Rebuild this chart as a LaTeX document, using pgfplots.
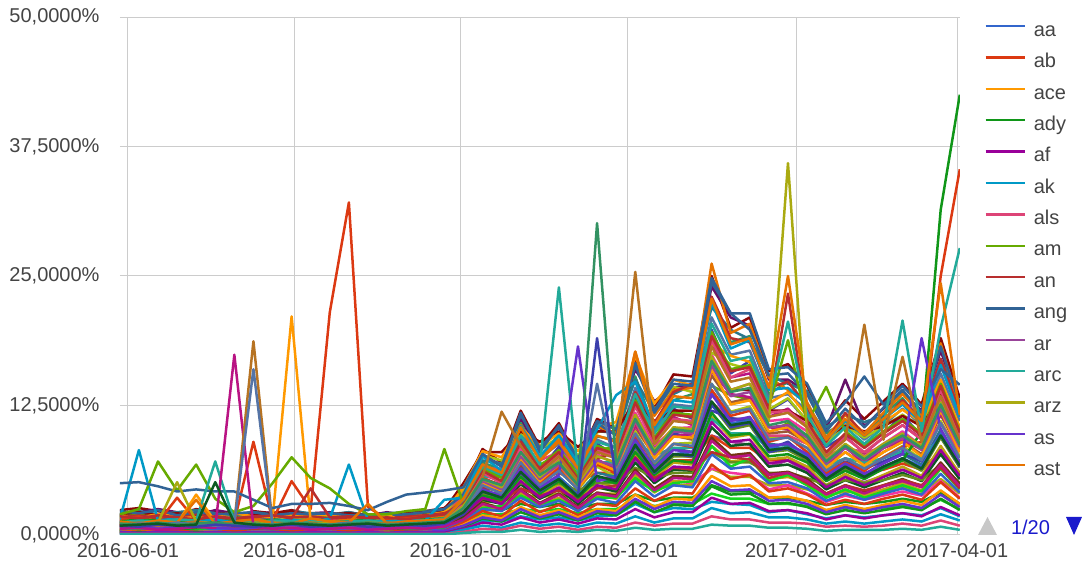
\documentclass[border=0pt]{standalone}
\usepackage{fontspec}
\setmainfont{Liberation Sans}
\usepackage{pgfplots}
\pgfplotsset{compat=1.18}
\definecolor{c1}{HTML}{3366CC}\definecolor{c2}{HTML}{DC3912}\definecolor{c3}{HTML}{FF9900}
\definecolor{c4}{HTML}{109618}\definecolor{c5}{HTML}{990099}\definecolor{c6}{HTML}{0099C6}
\definecolor{c7}{HTML}{DD4477}\definecolor{c8}{HTML}{66AA00}\definecolor{c9}{HTML}{B82E2E}
\definecolor{c10}{HTML}{316395}\definecolor{c11}{HTML}{994499}\definecolor{c12}{HTML}{22AA99}
\definecolor{c13}{HTML}{AAAA11}\definecolor{c14}{HTML}{6633CC}\definecolor{c15}{HTML}{E67300}
\definecolor{c16}{HTML}{8B0707}\definecolor{c17}{HTML}{651067}\definecolor{c18}{HTML}{329262}
\definecolor{c19}{HTML}{5574A6}\definecolor{c20}{HTML}{3B3EAC}\definecolor{c21}{HTML}{B77322}
\definecolor{c22}{HTML}{16D620}\definecolor{c23}{HTML}{B91383}\definecolor{c24}{HTML}{F4359E}
\definecolor{c25}{HTML}{9C5935}\definecolor{c26}{HTML}{A9C413}\definecolor{c27}{HTML}{2A778D}
\definecolor{c28}{HTML}{668D1C}\definecolor{c29}{HTML}{BEA413}\definecolor{c30}{HTML}{0C5922}
\definecolor{c31}{HTML}{743411}
\definecolor{textgray}{HTML}{444444}\definecolor{gridgray}{HTML}{CCCCCC}
\definecolor{pagerblue}{HTML}{1A1ACC}\definecolor{pagergray}{HTML}{C8C8C8}
% one weekly series (Sundays from 2016-05-29): x = days since 2016-06-01
\newcommand{\ser}[2]{\addplot[#1] table[x expr=7*\coordindex-3,y index=0,header=false,row sep=\\]{#2\\};}
\begin{document}
\begin{tikzpicture}
\path[use as bounding box] (0,0) rectangle (541pt,283.5pt);
\begin{axis}[
  at={(59.9pt,16pt)}, anchor=south west,
  scale only axis, width=420pt, height=259pt,
  xmin=-3, xmax=305, ymin=0, ymax=50,
  xtick={0,61,122,183,245,304},
  xticklabels={2016-06-01,2016-08-01,2016-10-01,2016-12-01,2017-02-01,2017-04-01},
  ytick={0,12.5,25,37.5,50},
  yticklabels={{0,0000\%},{12,5000\%},{25,0000\%},{37,5000\%},{50,0000\%}},
  grid=major, grid style={color=gridgray, line width=0.5pt},
  axis line style={draw=none},
  major tick length=0pt,
  tick label style={font=\fontsize{10}{12}\selectfont, text=textgray},
  yticklabel style={xshift=-6.6pt},
  xticklabel style={yshift=-0.8pt},
  every axis plot/.append style={line width=1.25pt, line join=round, mark=none},
  legend style={at={(1.0217,1.0)}, anchor=north west, draw=none, fill=none,
    font=\fontsize{10}{12}\selectfont, text=textgray, row sep=5.68pt, column sep=4pt,
    nodes={inner sep=0pt, text height=7.5pt, text depth=2.5pt}},
  legend cell align=left,
  legend image code/.code={\draw[#1, line width=1.2pt] (0pt,2.6pt) -- (19.5pt,2.6pt);},
]
% ---- background mass of series (pages 2..20 of the legend) ----
\ser{c16,forget plot}{2.4\\2.6\\2.3\\2.0\\2.5\\2.2\\1.8\\2.3\\2.1\\2.4\\2.0\\1.9\\2.2\\1.8\\2.0\\2.1\\2.3\\2.6\\4.3\\8.3\\7.0\\12.0\\8.5\\10.8\\7.2\\11.2\\10.3\\17.2\\12.2\\15.5\\15.3\\25.0\\20.0\\21.0\\15.8\\16.5\\14.4\\10.6\\13.0\\11.2\\12.9\\14.6\\12.6\\19.0\\13.2}
\ser{c11,forget plot}{0.9\\1.0\\0.8\\1.1\\0.9\\1.0\\0.8\\0.9\\1.0\\0.8\\1.1\\0.9\\1.0\\0.8\\0.9\\1.0\\1.1\\1.2\\2.4\\4.2\\3.9\\5.4\\4.5\\5.1\\4.2\\5.4\\5.7\\9.0\\6.6\\7.8\\7.5\\9.6\\9.0\\8.7\\6.6\\7.2\\6.0\\4.8\\5.7\\5.1\\5.7\\6.3\\5.7\\7.8\\5.4}
\ser{c17,forget plot}{1.9\\2.2\\2.5\\2.2\\1.9\\2.4\\2.1\\2.0\\2.2\\1.8\\2.1\\2.2\\1.7\\1.9\\2.2\\1.9\\2.1\\2.4\\4.0\\7.6\\6.8\\11.2\\8.1\\10.4\\7.0\\10.4\\9.8\\16.0\\12.9\\14.2\\14.6\\24.0\\21.0\\20.2\\15.0\\15.0\\13.8\\10.2\\15.0\\10.5\\12.2\\13.7\\12.0\\17.8\\12.4}
\ser{c13,forget plot}{0.5\\0.6\\0.7\\0.5\\0.6\\0.5\\0.7\\0.6\\0.5\\0.6\\0.7\\0.5\\0.6\\0.5\\0.6\\0.7\\0.6\\0.8\\2.0\\3.2\\3.2\\4.0\\3.6\\4.0\\3.4\\4.0\\4.0\\5.2\\4.4\\4.8\\4.8\\6.4\\5.6\\5.6\\4.8\\4.8\\4.4\\3.8\\4.2\\4.0\\4.2\\4.6\\4.2\\5.4\\4.0}
\ser{c18,forget plot}{1.6\\1.9\\1.7\\2.1\\1.6\\1.8\\2.0\\1.5\\1.7\\2.0\\1.6\\1.8\\1.9\\1.5\\1.7\\1.8\\2.0\\2.2\\3.8\\7.0\\6.3\\10.8\\7.2\\9.8\\6.6\\9.5\\9.2\\15.3\\10.2\\13.0\\13.6\\22.8\\18.6\\19.2\\13.6\\14.8\\12.5\\9.8\\11.0\\9.4\\11.6\\13.2\\10.8\\16.8\\11.8}
\ser{c8,forget plot}{1.8\\2.0\\1.7\\1.9\\2.1\\1.8\\1.6\\1.9\\1.7\\2.0\\1.8\\1.7\\1.9\\1.6\\1.8\\1.9\\2.0\\2.3\\3.6\\6.3\\5.9\\8.1\\6.8\\7.7\\6.3\\8.1\\8.6\\13.5\\9.9\\11.7\\11.3\\14.4\\13.5\\13.1\\9.9\\10.8\\9.0\\7.2\\8.6\\7.7\\8.6\\9.5\\8.6\\11.7\\8.1}
\ser{c19,forget plot}{2.0\\1.7\\1.9\\1.6\\2.0\\1.7\\1.5\\1.9\\1.6\\1.8\\1.7\\1.5\\1.8\\1.6\\1.5\\1.8\\1.9\\2.1\\3.5\\6.6\\6.0\\9.8\\7.4\\8.8\\6.2\\9.2\\8.4\\14.2\\10.0\\12.6\\12.4\\21.0\\17.4\\17.8\\13.2\\13.6\\12.0\\8.8\\10.8\\9.2\\10.6\\12.2\\10.6\\15.6\\11.0}
\ser{c22,forget plot}{0.3\\0.4\\0.3\\0.3\\0.4\\0.3\\0.3\\0.4\\0.3\\0.3\\0.4\\0.3\\0.3\\0.4\\0.3\\0.3\\0.4\\0.5\\1.3\\2.0\\2.0\\2.5\\2.3\\2.5\\2.1\\2.5\\2.5\\3.3\\2.8\\3.0\\3.0\\4.0\\3.5\\3.5\\3.0\\3.0\\2.8\\2.4\\2.6\\2.5\\2.6\\2.9\\2.6\\3.4\\2.5}
\ser{c20,forget plot}{1.4\\1.6\\1.5\\1.8\\1.3\\1.6\\1.4\\1.7\\1.5\\1.3\\1.6\\1.4\\1.5\\1.7\\1.3\\1.5\\1.6\\1.9\\3.3\\6.2\\5.6\\9.4\\6.3\\8.5\\5.4\\8.8\\7.6\\13.4\\9.0\\12.2\\11.2\\19.8\\15.6\\16.8\\12.0\\13.1\\11.0\\8.5\\9.6\\8.8\\9.8\\11.6\\9.5\\15.0\\9.8}
\ser{c24,forget plot}{0.6\\0.5\\0.7\\0.6\\0.5\\0.6\\0.7\\0.5\\0.6\\0.7\\0.5\\0.6\\0.5\\0.7\\0.6\\0.5\\0.6\\0.7\\1.6\\2.8\\2.6\\3.6\\3.0\\3.4\\2.8\\3.6\\3.8\\6.0\\4.4\\5.2\\5.0\\6.4\\6.0\\5.8\\4.4\\4.8\\4.0\\3.2\\3.8\\3.4\\3.8\\4.2\\3.8\\5.2\\3.6}
\ser{c23,forget plot}{1.3\\1.5\\1.2\\1.4\\1.6\\1.3\\1.1\\1.4\\1.2\\1.5\\1.3\\1.2\\1.4\\1.1\\1.3\\1.4\\1.5\\1.7\\3.1\\5.8\\5.2\\8.4\\6.4\\7.6\\5.5\\8.2\\7.5\\12.6\\8.8\\11.4\\10.6\\18.4\\15.2\\15.6\\11.4\\12.2\\10.4\\7.8\\9.5\\7.9\\9.4\\10.6\\9.3\\13.8\\9.6}
\ser{c2,forget plot}{1.1\\1.2\\1.0\\1.3\\1.1\\1.0\\1.2\\1.1\\1.3\\1.0\\1.1\\1.2\\1.0\\1.1\\1.2\\1.0\\1.2\\1.4\\3.0\\4.8\\4.8\\6.0\\5.4\\6.0\\5.1\\6.0\\6.0\\7.8\\6.6\\7.2\\7.2\\9.6\\8.4\\8.4\\7.2\\7.2\\6.6\\5.7\\6.3\\6.0\\6.3\\6.9\\6.3\\8.1\\6.0}
\ser{c24,forget plot}{1.1\\1.3\\1.4\\1.2\\1.0\\1.3\\1.2\\1.0\\1.3\\1.1\\1.2\\1.0\\1.1\\1.3\\1.0\\1.2\\1.3\\1.5\\2.8\\5.6\\4.6\\8.3\\5.5\\7.4\\4.8\\7.8\\6.8\\11.8\\8.5\\10.3\\10.4\\17.4\\14.0\\14.6\\11.0\\11.2\\10.0\\7.4\\8.6\\7.6\\8.8\\10.0\\8.6\\13.0\\9.0}
\ser{c27,forget plot}{2.1\\2.3\\2.0\\2.2\\2.4\\2.1\\1.9\\2.2\\2.0\\2.3\\2.1\\2.0\\2.2\\1.9\\2.1\\2.2\\2.3\\2.5\\4.1\\7.2\\6.9\\10.6\\8.2\\9.4\\7.1\\10.0\\9.9\\15.0\\11.8\\13.6\\14.5\\22.0\\19.8\\18.9\\15.4\\14.6\\13.9\\10.4\\11.6\\10.9\\11.5\\14.0\\11.2\\17.0\\12.8}
\ser{c25,forget plot}{0.9\\1.1\\1.0\\1.2\\0.9\\1.1\\1.0\\0.8\\1.1\\1.0\\0.9\\1.1\\1.0\\0.9\\1.0\\1.1\\1.2\\1.4\\2.5\\5.0\\4.4\\7.2\\5.3\\6.5\\4.6\\6.8\\6.4\\10.4\\7.6\\9.6\\9.2\\15.4\\12.8\\13.2\\9.8\\10.0\\9.0\\6.6\\8.0\\6.8\\8.0\\9.0\\7.8\\11.6\\8.2}
\ser{c26,forget plot}{1.7\\1.5\\1.8\\1.6\\1.7\\1.9\\1.5\\1.7\\1.8\\1.6\\1.5\\1.7\\1.6\\1.8\\1.5\\1.6\\1.8\\2.0\\4.4\\7.7\\7.2\\9.9\\8.3\\9.4\\7.7\\9.9\\10.5\\16.5\\12.1\\14.3\\13.8\\17.6\\16.5\\16.0\\12.1\\13.2\\11.0\\8.8\\10.5\\9.4\\10.5\\11.6\\10.5\\14.3\\9.9}
\ser{c26,forget plot}{1.0\\0.8\\1.1\\0.9\\1.2\\0.8\\0.9\\1.1\\0.8\\1.0\\1.1\\0.9\\0.8\\1.0\\1.1\\0.9\\1.0\\1.3\\2.4\\4.6\\4.2\\6.6\\4.9\\6.2\\4.4\\6.6\\5.6\\10.0\\6.8\\8.8\\8.9\\14.6\\11.9\\12.4\\9.4\\9.4\\8.4\\6.3\\7.4\\6.5\\7.5\\8.6\\7.3\\11.0\\7.6}
\ser{c7,forget plot}{1.4\\1.2\\1.5\\1.3\\1.4\\1.2\\1.3\\1.5\\1.2\\1.4\\1.3\\1.5\\1.2\\1.3\\1.4\\1.2\\1.4\\1.6\\4.0\\6.4\\6.4\\8.0\\7.2\\8.0\\6.8\\8.0\\8.0\\10.4\\8.8\\9.6\\9.6\\12.8\\11.2\\11.2\\9.6\\9.6\\8.8\\7.6\\8.4\\8.0\\8.4\\9.2\\8.4\\10.8\\8.0}
\ser{c27,forget plot}{0.8\\1.0\\0.9\\0.7\\1.0\\0.9\\0.8\\0.9\\1.0\\0.8\\0.7\\0.9\\0.8\\0.7\\0.9\\0.8\\0.9\\1.1\\2.3\\4.5\\3.6\\6.5\\4.4\\5.6\\4.0\\6.0\\5.6\\9.0\\6.6\\8.4\\8.0\\13.6\\11.2\\11.2\\8.8\\8.6\\7.8\\5.8\\7.0\\5.8\\7.0\\7.8\\6.8\\10.2\\7.0}
\ser{c16,forget plot}{2.0\\2.2\\1.9\\2.1\\1.8\\2.0\\2.2\\1.9\\2.1\\2.3\\1.9\\2.0\\2.1\\1.9\\2.0\\2.1\\2.2\\2.4\\5.0\\8.0\\8.0\\10.0\\9.0\\10.0\\8.5\\10.0\\10.0\\13.0\\11.0\\12.0\\12.0\\16.0\\14.0\\14.0\\12.0\\12.0\\11.0\\9.5\\10.5\\10.0\\10.5\\11.5\\10.5\\13.5\\10.0}
\ser{c28,forget plot}{0.7\\0.9\\0.8\\0.9\\0.7\\0.8\\0.7\\0.9\\0.7\\0.8\\0.9\\0.7\\0.8\\0.9\\0.7\\0.8\\0.9\\1.0\\2.1\\4.0\\3.5\\5.8\\4.3\\5.1\\3.7\\5.6\\5.0\\8.4\\6.0\\7.6\\7.6\\12.6\\10.2\\10.6\\8.0\\8.2\\7.2\\5.3\\6.4\\5.5\\6.4\\7.2\\6.2\\9.4\\6.5}
\ser{c6,forget plot}{0.2\\0.3\\0.2\\0.3\\0.2\\0.2\\0.3\\0.2\\0.3\\0.2\\0.2\\0.3\\0.2\\0.2\\0.3\\0.2\\0.3\\0.3\\0.8\\1.4\\1.3\\1.8\\1.5\\1.7\\1.4\\1.8\\1.9\\3.0\\2.2\\2.6\\2.5\\3.2\\3.0\\2.9\\2.2\\2.4\\2.0\\1.6\\1.9\\1.7\\1.9\\2.1\\1.9\\2.6\\1.8}
\ser{c29,forget plot}{0.6\\0.8\\0.7\\0.6\\0.8\\0.7\\0.6\\0.7\\0.8\\0.6\\0.7\\0.8\\0.6\\0.7\\0.6\\0.7\\0.8\\0.9\\2.0\\3.7\\3.2\\5.4\\3.8\\4.9\\3.3\\5.1\\4.6\\7.7\\5.5\\7.0\\6.8\\11.4\\9.4\\9.7\\7.3\\7.5\\6.6\\4.8\\5.9\\5.0\\5.8\\6.6\\5.7\\8.6\\5.9}
\ser{c29,forget plot}{0.5\\0.4\\0.6\\0.5\\0.4\\0.5\\0.6\\0.4\\0.5\\0.4\\0.6\\0.5\\0.4\\0.5\\0.4\\0.5\\0.6\\0.6\\1.5\\2.8\\2.4\\4.1\\2.9\\3.6\\2.5\\3.8\\3.5\\5.8\\4.1\\5.2\\5.1\\8.6\\7.1\\7.3\\5.4\\5.6\\5.0\\3.6\\4.4\\3.8\\4.4\\5.0\\4.3\\6.4\\4.5}
\ser{c30,forget plot}{0.5\\0.7\\0.6\\0.8\\0.5\\0.7\\0.6\\0.5\\0.7\\0.6\\0.5\\0.7\\0.6\\0.5\\0.6\\0.7\\0.6\\0.8\\1.8\\3.4\\3.0\\4.9\\3.5\\4.4\\3.0\\4.6\\4.2\\7.0\\5.0\\6.3\\6.2\\10.4\\8.6\\8.8\\6.6\\6.8\\6.0\\4.4\\5.3\\4.6\\5.3\\6.0\\5.2\\7.8\\5.4}
\ser{c28,forget plot}{0.8\\0.7\\0.9\\0.8\\0.7\\0.9\\0.8\\0.7\\0.8\\0.9\\0.7\\0.8\\0.9\\0.7\\0.8\\0.7\\0.9\\1.0\\2.5\\4.0\\4.0\\5.0\\4.5\\5.0\\4.3\\5.0\\5.0\\6.5\\5.5\\6.0\\6.0\\8.0\\7.0\\7.0\\6.0\\6.0\\5.5\\4.8\\5.3\\5.0\\5.3\\5.8\\5.3\\6.8\\5.0}
\ser{c31,forget plot}{0.5\\0.6\\0.5\\0.6\\0.7\\0.5\\0.6\\0.5\\0.6\\0.5\\0.6\\0.5\\0.6\\0.5\\0.6\\0.5\\0.6\\0.7\\1.6\\3.1\\2.6\\4.4\\3.1\\4.0\\2.7\\4.1\\3.8\\6.3\\4.5\\5.7\\5.6\\9.4\\7.7\\7.9\\5.9\\6.1\\5.4\\4.0\\4.8\\4.1\\4.8\\5.4\\4.7\\7.0\\4.9}
\ser{c20,forget plot}{1.3\\1.4\\1.2\\1.5\\1.3\\1.2\\1.4\\1.3\\1.2\\1.4\\1.5\\1.3\\1.2\\1.4\\1.3\\1.2\\1.4\\1.6\\3.0\\5.3\\4.9\\6.8\\5.6\\6.4\\5.3\\6.8\\7.1\\11.3\\8.3\\9.8\\9.4\\12.0\\11.3\\10.9\\8.3\\9.0\\7.5\\6.0\\7.1\\6.4\\7.1\\7.9\\7.1\\9.8\\6.8}
\ser{c22,forget plot}{0.4\\0.5\\0.6\\0.4\\0.5\\0.6\\0.4\\0.5\\0.4\\0.6\\0.5\\0.4\\0.5\\0.6\\0.4\\0.5\\0.5\\0.6\\1.5\\2.6\\2.8\\3.8\\3.0\\3.4\\2.6\\3.6\\3.6\\5.5\\4.2\\5.0\\5.2\\8.6\\6.6\\7.4\\5.2\\5.8\\4.8\\3.6\\4.4\\3.6\\4.2\\4.8\\4.2\\6.4\\4.4}
\ser{c4,forget plot}{0.4\\0.3\\0.4\\0.5\\0.4\\0.3\\0.4\\0.5\\0.4\\0.3\\0.4\\0.4\\0.3\\0.4\\0.5\\0.4\\0.4\\0.5\\1.5\\2.4\\2.4\\3.0\\2.7\\3.0\\2.6\\3.0\\3.0\\3.9\\3.3\\3.6\\3.6\\4.8\\4.2\\4.2\\3.6\\3.6\\3.3\\2.9\\3.2\\3.0\\3.2\\3.5\\3.2\\4.1\\3.0}
\ser{c1,forget plot}{0.4\\0.4\\0.5\\0.4\\0.3\\0.5\\0.4\\0.4\\0.5\\0.3\\0.4\\0.4\\0.5\\0.4\\0.3\\0.4\\0.4\\0.5\\1.4\\2.5\\2.3\\3.6\\2.7\\3.3\\2.3\\3.5\\3.1\\5.2\\3.7\\4.8\\4.6\\7.8\\6.4\\6.6\\5.0\\5.1\\4.5\\3.3\\4.0\\3.4\\4.0\\4.5\\3.9\\5.9\\4.1}
\ser{c23,forget plot}{1.0\\1.1\\0.9\\1.2\\1.0\\1.1\\0.9\\1.0\\1.2\\0.9\\1.0\\1.1\\0.9\\1.0\\1.1\\0.9\\1.1\\1.2\\2.8\\5.0\\4.6\\7.4\\5.6\\6.6\\4.9\\7.3\\6.3\\10.6\\7.9\\9.5\\9.8\\15.8\\13.6\\13.3\\10.4\\10.2\\9.5\\6.6\\8.5\\6.9\\8.4\\9.1\\8.3\\11.7\\8.6}
\ser{c2,forget plot}{0.3\\0.4\\0.3\\0.4\\0.3\\0.3\\0.4\\0.3\\0.3\\0.4\\0.3\\0.3\\0.4\\0.3\\0.3\\0.4\\0.3\\0.4\\1.2\\2.3\\1.8\\3.3\\2.2\\2.9\\1.9\\3.0\\2.8\\4.5\\3.3\\4.1\\4.0\\6.8\\5.4\\5.8\\4.2\\4.5\\3.9\\2.9\\3.4\\3.0\\3.5\\3.9\\3.4\\5.1\\3.5}
\ser{c3,forget plot}{1.9\\1.7\\2.0\\1.8\\1.7\\1.9\\2.1\\1.8\\1.7\\1.9\\1.8\\2.0\\1.7\\1.8\\1.9\\1.7\\1.9\\2.2\\4.6\\8.1\\7.5\\10.4\\8.6\\9.8\\8.1\\10.4\\10.9\\17.3\\12.7\\15.0\\14.4\\18.4\\17.3\\16.7\\12.7\\13.8\\11.5\\9.2\\10.9\\9.8\\10.9\\12.1\\10.9\\15.0\\10.4}
\ser{c3,forget plot}{0.3\\0.3\\0.3\\0.2\\0.3\\0.3\\0.2\\0.3\\0.3\\0.2\\0.3\\0.3\\0.2\\0.3\\0.3\\0.2\\0.3\\0.3\\1.0\\1.9\\1.6\\2.7\\1.9\\2.4\\1.7\\2.5\\2.3\\3.9\\2.7\\3.5\\3.4\\5.7\\4.7\\4.8\\3.6\\3.7\\3.3\\2.4\\2.9\\2.5\\2.9\\3.3\\2.9\\4.3\\3.0}
\ser{c12,forget plot}{1.2\\1.0\\1.1\\1.3\\1.0\\1.2\\1.1\\1.0\\1.2\\1.1\\1.3\\1.0\\1.1\\1.2\\1.0\\1.1\\1.2\\1.4\\3.5\\5.6\\5.6\\7.0\\6.3\\7.0\\6.0\\7.0\\7.0\\9.1\\7.7\\8.4\\8.4\\11.2\\9.8\\9.8\\8.4\\8.4\\7.7\\6.7\\7.4\\7.0\\7.4\\8.1\\7.4\\9.5\\7.0}
\ser{c4,forget plot}{0.2\\0.3\\0.2\\0.2\\0.3\\0.2\\0.2\\0.2\\0.3\\0.2\\0.2\\0.2\\0.2\\0.2\\0.2\\0.3\\0.2\\0.3\\0.8\\1.6\\1.3\\2.2\\1.6\\2.0\\1.4\\2.1\\1.9\\3.2\\2.2\\2.9\\2.8\\4.7\\3.9\\4.0\\3.0\\3.1\\2.7\\2.0\\2.4\\2.1\\2.4\\2.7\\2.4\\3.5\\2.4}
\ser{c14,forget plot}{0.3\\0.2\\0.3\\0.3\\0.2\\0.3\\0.2\\0.3\\0.3\\0.2\\0.3\\0.3\\0.2\\0.3\\0.2\\0.3\\0.3\\0.4\\0.9\\1.7\\1.4\\2.5\\1.7\\2.2\\1.5\\2.3\\2.1\\3.5\\2.5\\3.2\\3.1\\5.2\\4.3\\4.4\\3.3\\3.4\\3.0\\2.2\\2.7\\2.3\\2.7\\3.0\\2.6\\3.9\\2.7}
\ser{c5,forget plot}{0.2\\0.2\\0.2\\0.2\\0.2\\0.2\\0.2\\0.2\\0.2\\0.2\\0.2\\0.2\\0.2\\0.2\\0.2\\0.2\\0.2\\0.2\\0.6\\1.2\\1.0\\1.7\\1.2\\1.5\\1.1\\1.6\\1.5\\2.5\\1.7\\2.2\\2.2\\3.6\\3.0\\3.1\\2.3\\2.4\\2.1\\1.5\\1.9\\1.6\\1.9\\2.1\\1.8\\2.7\\1.9}
\ser{c9,forget plot}{0.7\\0.8\\0.7\\0.6\\0.8\\0.7\\0.8\\0.6\\0.7\\0.8\\0.7\\0.6\\0.8\\0.7\\0.6\\0.7\\0.8\\0.9\\2.0\\3.5\\3.3\\4.5\\3.8\\4.3\\3.5\\4.5\\4.8\\7.5\\5.5\\6.5\\6.3\\8.0\\7.5\\7.3\\5.5\\6.0\\5.0\\4.0\\4.8\\4.3\\4.8\\5.3\\4.8\\6.5\\4.5}
\ser{c6,forget plot}{0.1\\0.1\\0.1\\0.1\\0.1\\0.1\\0.1\\0.1\\0.1\\0.1\\0.1\\0.1\\0.1\\0.1\\0.1\\0.1\\0.1\\0.1\\0.5\\0.9\\0.7\\1.2\\0.9\\1.1\\0.8\\1.2\\1.1\\1.8\\1.2\\1.6\\1.6\\2.6\\2.1\\2.2\\1.7\\1.7\\1.5\\1.1\\1.3\\1.1\\1.3\\1.5\\1.3\\2.0\\1.4}
\ser{c7,forget plot}{0.1\\0.1\\0.1\\0.1\\0.1\\0.1\\0.1\\0.1\\0.1\\0.1\\0.1\\0.1\\0.1\\0.1\\0.1\\0.1\\0.1\\0.1\\0.3\\0.6\\0.5\\0.9\\0.6\\0.8\\0.5\\0.8\\0.7\\1.2\\0.9\\1.1\\1.1\\1.8\\1.5\\1.5\\1.2\\1.2\\1.1\\0.8\\0.9\\0.8\\0.9\\1.1\\0.9\\1.4\\0.9}
\ser{c12,forget plot}{0.05\\0.05\\0.05\\0.05\\0.05\\0.05\\0.05\\0.05\\0.05\\0.05\\0.05\\0.05\\0.05\\0.05\\0.05\\0.05\\0.05\\0.05\\0.2\\0.3\\0.3\\0.5\\0.3\\0.4\\0.3\\0.5\\0.4\\0.7\\0.5\\0.6\\0.6\\1.0\\0.9\\0.9\\0.7\\0.7\\0.6\\0.4\\0.5\\0.5\\0.5\\0.6\\0.5\\0.8\\0.5}
\ser{c15,forget plot}{1.5\\1.3\\1.6\\1.4\\1.5\\1.2\\1.4\\1.6\\1.3\\1.5\\1.4\\1.3\\1.5\\1.2\\1.4\\1.3\\1.5\\1.8\\3.6\\6.8\\6.0\\10.6\\7.6\\9.2\\6.4\\10.5\\9.8\\17.7\\11.5\\14.0\\14.2\\26.2\\19.5\\20.4\\15.2\\14.0\\12.8\\9.4\\11.6\\9.8\\11.8\\13.6\\11.6\\18.5\\12.0}
\ser{c9,forget plot}{1.7\\1.9\\1.6\\1.8\\2.0\\1.7\\1.6\\1.8\\1.9\\1.7\\1.8\\1.6\\1.7\\1.8\\1.6\\1.8\\1.9\\2.1\\2.8\\4.6\\4.2\\6.8\\5.2\\6.6\\5.0\\7.4\\8.0\\13.8\\10.8\\13.8\\14.6\\23.0\\19.0\\18.6\\14.2\\14.8\\12.4\\9.0\\11.8\\9.6\\11.0\\13.0\\11.2\\17.0\\11.8}
\ser{c10,forget plot}{2.3\\2.1\\2.4\\1.9\\2.2\\2.0\\2.1\\2.2\\1.9\\2.1\\2.0\\2.1\\1.9\\2.0\\1.9\\2.0\\2.2\\2.5\\3.9\\7.8\\6.6\\11.8\\8.0\\10.6\\6.9\\10.8\\9.6\\16.4\\11.8\\14.6\\14.4\\24.4\\21.4\\19.8\\15.4\\15.6\\13.6\\10.0\\12.2\\10.4\\12.3\\14.0\\11.8\\18.2\\12.6}
% ---- the fifteen series of legend page 1/20 ----
\ser{c1}{1.2\\1.0\\1.3\\1.1\\0.9\\1.2\\1.0\\1.1\\1.3\\1.0\\0.9\\1.1\\1.2\\1.0\\0.9\\1.1\\1.2\\1.4\\2.3\\4.2\\3.8\\6.0\\4.5\\5.6\\3.8\\5.5\\5.4\\8.5\\6.4\\7.8\\8.0\\12.5\\10.8\\11.0\\8.5\\8.3\\7.6\\5.5\\6.8\\5.8\\6.5\\7.4\\6.6\\9.8\\6.8}
\addlegendentry{aa}
\ser{c2}{1.5\\1.8\\1.2\\3.6\\1.4\\1.5\\1.3\\9.0\\1.4\\5.2\\2.5\\21.5\\32.1\\2.7\\1.5\\1.6\\1.8\\2.0\\3.0\\5.5\\4.8\\7.2\\5.0\\6.5\\4.5\\6.8\\6.0\\9.5\\7.0\\8.8\\8.5\\14.0\\11.5\\12.0\\9.0\\9.5\\8.0\\6.0\\7.0\\6.2\\7.5\\8.5\\9.0\\25.0\\35.3}
\addlegendentry{ab}
\ser{c3}{1.0\\1.2\\0.9\\1.1\\3.9\\1.3\\1.0\\1.2\\1.5\\21.1\\1.3\\1.1\\1.0\\1.2\\2.0\\1.1\\1.0\\1.3\\2.6\\5.0\\4.3\\7.4\\5.2\\6.8\\4.5\\7.0\\6.2\\11.0\\7.4\\9.5\\9.4\\16.0\\12.6\\13.0\\10.0\\10.4\\8.8\\6.5\\8.0\\6.7\\8.0\\9.0\\7.6\\12.0\\8.0}
\addlegendentry{ace}
\ser{c4}{1.3\\1.5\\1.4\\1.2\\1.6\\1.3\\1.4\\1.2\\1.5\\1.3\\1.4\\1.2\\1.3\\1.5\\1.2\\1.4\\1.5\\1.6\\2.2\\3.8\\3.4\\5.6\\4.0\\5.2\\3.6\\5.4\\5.0\\8.0\\5.8\\7.2\\7.0\\11.8\\9.6\\9.8\\7.6\\7.8\\7.0\\5.2\\6.2\\5.4\\6.4\\7.2\\10.0\\31.4\\42.5}
\addlegendentry{ady}
\ser{c5}{1.0\\0.9\\1.1\\1.0\\1.2\\1.1\\1.3\\1.2\\1.0\\1.1\\0.9\\1.0\\1.1\\0.9\\1.0\\1.1\\1.0\\1.2\\2.0\\3.6\\3.0\\5.2\\3.6\\4.6\\3.2\\4.8\\4.4\\7.4\\5.2\\6.6\\6.5\\10.9\\9.0\\9.2\\6.9\\7.2\\6.3\\4.6\\5.6\\4.8\\5.6\\6.3\\5.5\\8.2\\5.7}
\addlegendentry{af}
\ser{c6}{1.5\\8.2\\1.4\\1.6\\1.3\\1.5\\1.2\\1.4\\1.3\\1.5\\1.2\\1.6\\6.8\\1.4\\1.3\\1.5\\1.4\\3.4\\3.6\\7.6\\6.2\\10.5\\7.6\\9.6\\7.0\\10.2\\13.5\\14.8\\10.4\\13.0\\12.8\\22.5\\18.0\\18.8\\14.0\\14.2\\12.6\\9.2\\11.0\\9.6\\11.2\\12.6\\10.8\\16.4\\11.4}
\addlegendentry{ak}
\ser{c7}{0.9\\1.1\\1.0\\0.8\\1.0\\1.1\\0.9\\1.0\\0.8\\1.1\\0.9\\1.0\\1.1\\0.8\\0.9\\1.0\\1.1\\1.2\\3.0\\6.0\\5.0\\8.8\\6.2\\7.8\\5.2\\8.2\\7.6\\12.4\\9.0\\11.2\\11.0\\18.8\\15.2\\16.0\\11.8\\12.0\\10.6\\7.8\\9.4\\8.0\\9.4\\10.6\\9.2\\14.0\\9.5}
\addlegendentry{als}
\ser{c8}{2.0\\2.5\\7.1\\4.3\\6.8\\3.5\\2.2\\2.8\\5.0\\7.5\\5.5\\4.5\\3.0\\2.0\\2.0\\2.3\\2.5\\8.3\\3.0\\6.4\\5.5\\9.0\\6.6\\8.2\\5.8\\8.6\\8.0\\13.0\\9.4\\11.8\\11.6\\19.6\\16.0\\16.4\\12.4\\18.8\\10.8\\14.3\\10.0\\8.6\\10.0\\11.2\\9.8\\14.6\\10.0}
\addlegendentry{am}
\ser{c9}{1.8\\1.6\\1.9\\1.7\\1.5\\1.8\\1.6\\1.7\\1.9\\1.6\\4.5\\1.7\\1.8\\1.6\\1.7\\1.5\\1.8\\2.0\\3.2\\6.2\\5.2\\9.0\\6.4\\8.0\\5.4\\8.4\\7.8\\12.8\\9.2\\11.6\\11.4\\19.2\\15.8\\16.2\\12.2\\23.3\\11.0\\8.0\\9.8\\8.4\\9.8\\11.0\\9.6\\14.4\\9.9}
\addlegendentry{an}
\ser{c10}{5.0\\5.1\\4.7\\4.2\\4.4\\4.2\\4.2\\3.4\\2.6\\3.0\\3.0\\3.1\\2.8\\2.4\\3.2\\3.9\\4.1\\4.3\\4.6\\7.8\\6.6\\11.6\\8.4\\10.4\\7.4\\11.0\\10.2\\16.6\\12.0\\15.0\\14.8\\24.8\\21.4\\21.4\\16.0\\16.2\\14.6\\10.8\\12.8\\15.3\\12.6\\14.4\\12.4\\16.0\\14.5}
\addlegendentry{ang}
\ser{c11}{0.8\\0.9\\0.7\\0.9\\0.8\\0.7\\0.9\\0.8\\0.7\\0.8\\0.9\\0.7\\0.8\\0.9\\0.7\\0.8\\0.8\\1.0\\2.6\\5.2\\4.4\\7.6\\5.4\\6.8\\4.8\\7.2\\6.6\\11.0\\7.8\\10.0\\9.8\\16.4\\13.4\\13.8\\10.4\\10.6\\9.4\\6.9\\8.4\\7.2\\8.4\\9.4\\8.2\\12.2\\8.5}
\addlegendentry{ar}
\ser{c12}{1.2\\1.4\\1.3\\1.5\\1.4\\7.1\\1.3\\1.2\\1.4\\1.3\\1.5\\1.2\\1.3\\1.4\\1.2\\1.3\\1.4\\1.6\\3.4\\6.6\\5.8\\9.6\\6.8\\23.9\\6.0\\9.0\\8.4\\13.6\\9.8\\12.4\\12.2\\20.4\\16.8\\17.2\\12.8\\20.6\\11.6\\8.6\\10.4\\8.8\\10.4\\20.7\\10.0\\20.0\\27.7}
\addlegendentry{arc}
\ser{c13}{1.1\\1.0\\1.2\\5.1\\1.3\\1.1\\1.0\\1.2\\1.1\\1.0\\1.2\\1.1\\1.0\\1.2\\1.1\\1.0\\1.2\\1.3\\2.8\\5.4\\4.6\\8.0\\5.6\\7.2\\5.0\\7.6\\7.0\\11.6\\8.2\\10.4\\10.2\\17.2\\14.0\\14.6\\11.0\\35.9\\9.8\\7.2\\8.8\\7.5\\8.8\\9.8\\8.6\\12.8\\8.9}
\addlegendentry{arz}
\ser{c14}{0.7\\0.8\\0.6\\0.7\\0.8\\0.7\\0.6\\0.7\\0.8\\0.6\\0.7\\0.8\\0.7\\0.6\\0.7\\0.8\\0.7\\0.9\\2.2\\4.4\\3.8\\6.4\\4.6\\5.8\\18.2\\5.2\\5.6\\9.2\\6.4\\8.2\\8.0\\13.6\\11.0\\11.4\\8.6\\8.8\\7.8\\5.7\\6.9\\5.9\\6.9\\7.8\\19.0\\10.2\\7.0}
\addlegendentry{as}
\ser{c15}{1.3\\1.1\\1.4\\1.2\\3.4\\1.1\\1.3\\1.5\\1.2\\1.1\\1.6\\1.3\\1.2\\3.0\\1.1\\1.3\\1.4\\1.5\\3.5\\6.8\\6.0\\10.4\\7.2\\9.0\\6.4\\9.6\\9.0\\17.7\\10.6\\13.4\\13.2\\22.8\\18.4\\19.0\\14.2\\25.0\\12.6\\9.2\\11.2\\9.6\\11.2\\12.8\\11.0\\24.3\\11.6}
\addlegendentry{ast}
% ---- further series with isolated peaks ----
\ser{c23,forget plot}{0.6\\0.7\\0.5\\0.6\\0.8\\0.7\\17.4\\0.8\\0.6\\0.7\\0.5\\0.6\\0.7\\0.5\\0.6\\0.7\\0.6\\0.8\\1.5\\3.0\\2.5\\4.3\\3.0\\3.9\\2.6\\4.0\\3.7\\6.1\\4.3\\5.5\\5.4\\9.1\\7.5\\7.7\\5.8\\6.0\\5.2\\3.9\\4.7\\4.0\\4.7\\5.2\\4.6\\6.8\\4.7}
\ser{c21,forget plot}{1.0\\1.2\\0.9\\1.1\\1.3\\1.0\\1.2\\18.7\\1.1\\1.0\\1.2\\0.9\\1.1\\1.0\\1.2\\1.1\\1.0\\1.3\\2.4\\5.6\\11.9\\8.6\\6.0\\7.6\\5.2\\8.0\\7.4\\25.4\\8.8\\11.0\\10.8\\18.2\\14.8\\15.2\\11.4\\11.8\\10.4\\7.6\\9.2\\20.3\\9.2\\17.2\\9.0\\13.4\\9.2}
\ser{c19,forget plot}{0.9\\1.1\\1.0\\1.2\\1.0\\0.9\\1.1\\16.0\\1.0\\1.1\\0.9\\1.0\\1.2\\1.0\\0.9\\1.1\\1.0\\1.2\\2.2\\4.8\\4.0\\7.0\\4.8\\6.2\\4.4\\14.6\\6.0\\9.8\\7.0\\8.8\\8.6\\14.6\\11.8\\12.2\\9.2\\9.4\\8.4\\6.2\\7.4\\6.4\\7.4\\8.4\\7.2\\10.8\\7.4}
\ser{c18,forget plot}{1.1\\1.0\\1.2\\1.0\\1.1\\1.2\\1.0\\1.1\\1.0\\1.2\\1.1\\1.0\\1.1\\1.2\\1.0\\1.1\\1.2\\1.3\\2.6\\5.4\\4.8\\8.0\\5.8\\7.0\\4.8\\30.1\\6.8\\11.2\\8.0\\10.2\\10.0\\16.8\\13.8\\14.2\\10.6\\11.0\\9.6\\7.1\\8.6\\7.3\\8.6\\9.6\\8.4\\12.6\\8.7}
\ser{c20,forget plot}{0.9\\0.8\\1.0\\0.9\\0.8\\1.0\\0.9\\0.8\\0.9\\1.0\\0.8\\0.9\\1.0\\0.8\\0.9\\1.0\\0.9\\1.1\\2.0\\4.2\\3.6\\6.0\\4.2\\5.4\\3.8\\19.0\\5.2\\8.6\\6.0\\7.8\\7.6\\12.6\\10.4\\10.8\\8.0\\8.4\\7.4\\5.4\\6.6\\5.6\\6.6\\7.4\\6.4\\9.6\\6.6}
\ser{c30,forget plot}{0.9\\1.0\\1.1\\0.9\\1.0\\5.1\\1.2\\1.0\\0.9\\1.1\\1.0\\0.9\\1.0\\1.1\\0.9\\1.0\\1.1\\1.2\\2.2\\4.2\\3.6\\6.1\\4.3\\5.4\\3.7\\5.7\\5.2\\8.7\\6.1\\7.8\\7.7\\12.9\\10.6\\10.9\\8.2\\8.4\\7.4\\5.4\\6.6\\5.6\\6.6\\7.4\\6.4\\9.6\\6.7}
\end{axis}
% legend pager
\fill[pagergray] (489pt,16pt) -- (498.5pt,16pt) -- (493.75pt,25pt) -- cycle;
\node[anchor=base, text=pagerblue, font=\fontsize{10}{12}\selectfont, inner sep=0pt] at (515.25pt,16.4pt) {1/20};
\fill[pagerblue] (533pt,25pt) -- (541pt,25pt) -- (537pt,16pt) -- cycle;
\end{tikzpicture}
\end{document}
